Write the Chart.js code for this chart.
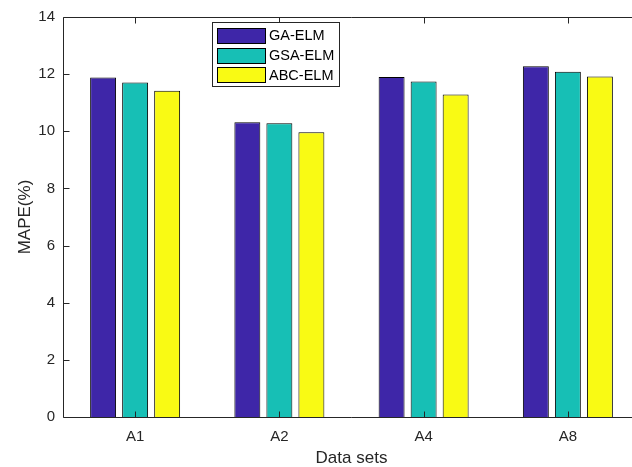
<!DOCTYPE html>
<html>
<head>
<meta charset="utf-8">
<script src="https://cdn.jsdelivr.net/npm/chart.js@4/dist/chart.umd.min.js"></script>
<style>
  html, body { margin: 0; padding: 0; background: #fff; overflow: hidden; }
  #wrap { position: relative; width: 632px; height: 467px; overflow: hidden; }
  canvas { display: block; position: absolute; left: 0; top: 0; }
</style>
</head>
<body>
<div id="wrap"><canvas id="mapeChart" width="660" height="467"></canvas></div>
<script>
// data
const categories = ['A1', 'A2', 'A4', 'A8'];
const gaElm = [11.88, 10.32, 11.90, 12.28];
const gsaElm = [11.71, 10.28, 11.74, 12.08];
const abcElm = [11.42, 9.97, 11.29, 11.92];
const seriesNames = ['GA-ELM', 'GSA-ELM', 'ABC-ELM'];
const yTicks = [0, 2, 4, 6, 8, 10, 12, 14];

const axisColor = '#262626';
const fontFamily = '"Liberation Sans", Arial, Helvetica, sans-serif';

// frame + inward ticks like a matlab box (right edge falls outside the page)
const boxPlugin = {
  id: 'box',
  afterDraw(chart) {
    const ctx = chart.ctx;
    const a = chart.chartArea;
    const xs = chart.scales.x;
    const ys = chart.scales.y;
    const l = a.left + 0.5, t = a.top + 0.5, b = a.bottom + 0.5;
    ctx.save();
    ctx.strokeStyle = axisColor;
    ctx.lineWidth = 1;
    ctx.beginPath();
    ctx.moveTo(a.right, t);
    ctx.lineTo(l, t);
    ctx.lineTo(l, b);
    ctx.lineTo(a.right, b);
    ctx.stroke();
    ctx.beginPath();
    for (let i = 0; i < categories.length; i++) {
      const px = Math.round(xs.getPixelForTick(i)) + 0.5;
      ctx.moveTo(px, b);
      ctx.lineTo(px, b - 6);
      ctx.moveTo(px, t);
      ctx.lineTo(px, t + 6);
    }
    yTicks.forEach(v => {
      const py = Math.round(ys.getPixelForValue(v)) + 0.5;
      ctx.moveTo(l, py);
      ctx.lineTo(l + 6, py);
    });
    ctx.stroke();
    ctx.restore();
  }
};

// legend box inside the plot, upper left
const legendPlugin = {
  id: 'boxLegend',
  afterDraw(chart) {
    const ctx = chart.ctx;
    const x0 = 212.5, y0 = 22.5, w = 127, h = 64;
    ctx.save();
    ctx.fillStyle = '#fff';
    ctx.fillRect(x0, y0, w, h);
    ctx.strokeStyle = axisColor;
    ctx.lineWidth = 1;
    ctx.strokeRect(x0, y0, w, h);
    ctx.font = '14.5px ' + fontFamily;
    ctx.textBaseline = 'middle';
    chart.data.datasets.forEach((ds, i) => {
      const cy = 35.2 + i * 19.8;
      ctx.fillStyle = ds.backgroundColor;
      ctx.fillRect(217.5, Math.round(cy - 7.5) + 0.5, 48, 15);
      ctx.strokeStyle = '#000';
      ctx.strokeRect(217.5, Math.round(cy - 7.5) + 0.5, 48, 15);
      ctx.fillStyle = '#000';
      ctx.fillText(ds.label, 269, cy + 1);
    });
    ctx.restore();
  }
};

const colors = ['#3e26a8', '#17bfb5', '#f9fa14'];
const seriesData = [gaElm, gsaElm, abcElm];

const ctx = document.getElementById('mapeChart').getContext('2d');
const mapeChart = new Chart(ctx, {
  type: 'bar',
  data: {
    labels: categories,
    datasets: seriesNames.map((name, i) => ({
      label: name,
      data: seriesData[i],
      backgroundColor: colors[i],
      borderColor: '#000',
      borderWidth: 1,
      categoryPercentage: 0.666,
      barPercentage: 0.81
    }))
  },
  options: {
    responsive: false,
    animation: false,
    layout: { padding: { left: 0, right: 20, top: 13.5, bottom: 0 } },
    plugins: {
      legend: { display: false },
      tooltip: { enabled: false }
    },
    scales: {
      x: {
        grid: { display: false, drawTicks: false },
        border: { display: false },
        ticks: {
          color: axisColor,
          padding: 11,
          maxRotation: 0,
          font: { family: fontFamily, size: 15 }
        },
        title: {
          display: true,
          text: 'Data sets',
          color: axisColor,
          padding: { top: 0, bottom: -2 },
          font: { family: fontFamily, size: 17 }
        },
        afterFit(scale) { scale.height = 50; }
      },
      y: {
        min: 0,
        max: 14,
        grid: { display: false, drawTicks: false },
        border: { display: false },
        ticks: {
          stepSize: 2,
          color: axisColor,
          padding: 8,
          font: { family: fontFamily, size: 15 }
        },
        title: {
          display: true,
          text: 'MAPE(%)',
          color: axisColor,
          padding: { top: 15, bottom: 0 },
          font: { family: fontFamily, size: 17 }
        },
        afterFit(scale) { scale.width = 63; }
      }
    }
  },
  plugins: [boxPlugin, legendPlugin]
});
</script>
</body>
</html>
